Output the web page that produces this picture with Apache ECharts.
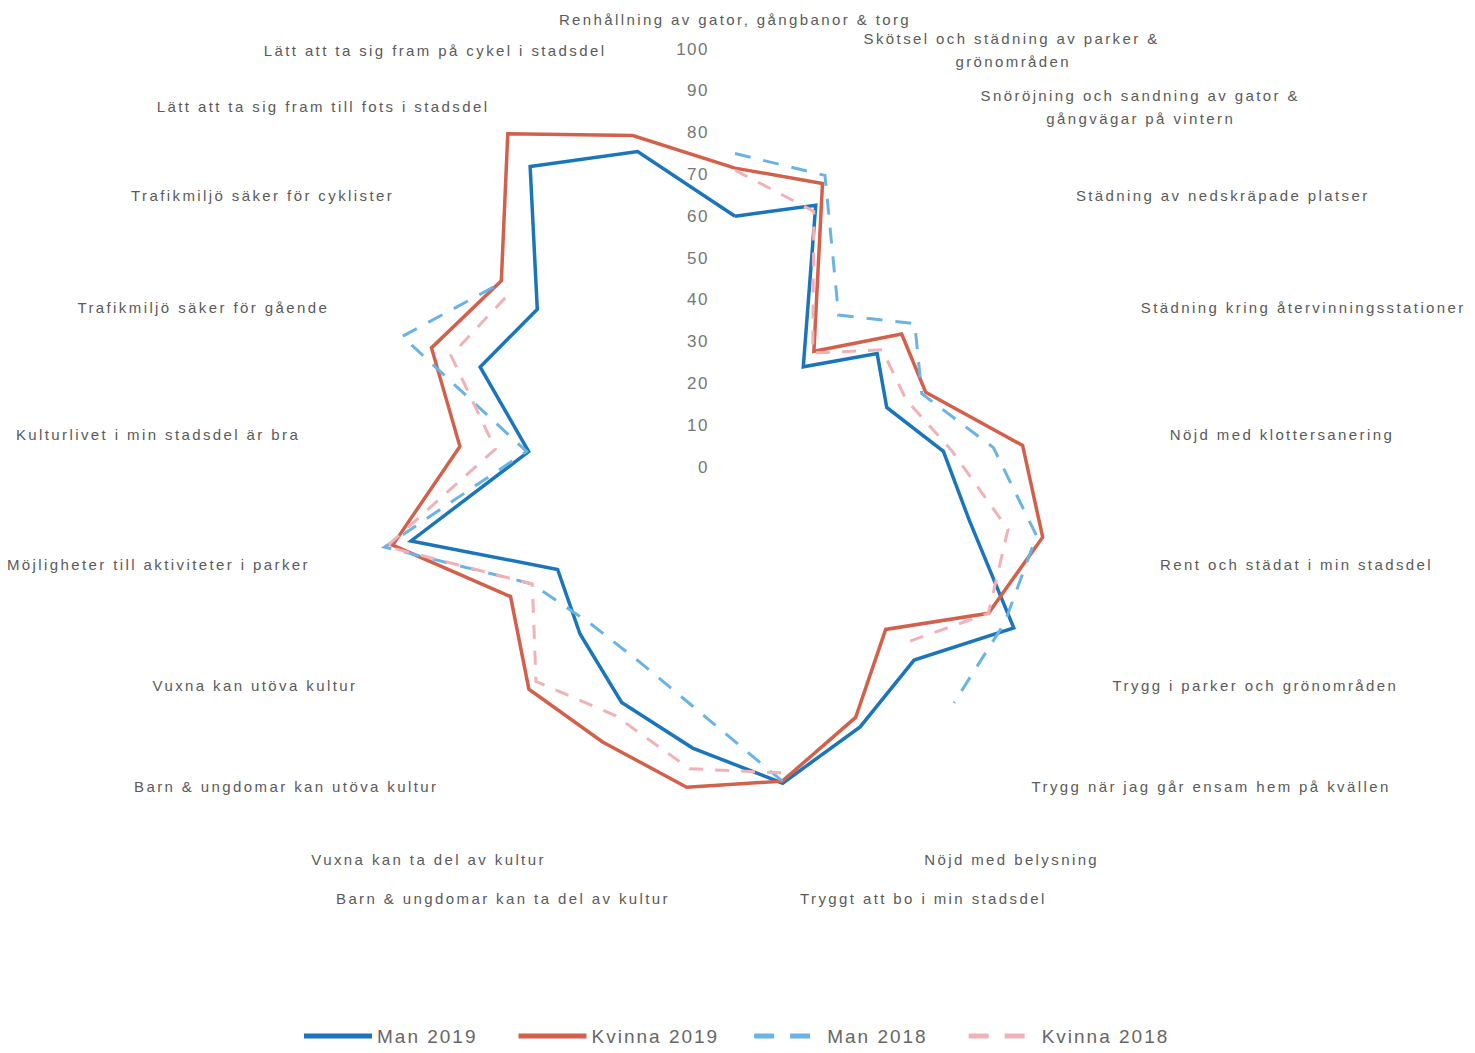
<!DOCTYPE html>
<html>
<head>
<meta charset="utf-8">
<script src="https://cdn.jsdelivr.net/npm/echarts@6/dist/echarts.min.js"></script>
<style>
  html, body { margin: 0; padding: 0; background: #ffffff; }
  #chart { width: 1475px; height: 1053px; }
  #chart text[style*="15px"] { letter-spacing: 2.4px; }
  #chart text[style*="17px"] { letter-spacing: 1.5px; }
  #chart text[style*="19px"] { letter-spacing: 2px; }
</style>
</head>
<body>
<div id="chart"></div>
<script>
// ---- data (clockwise from top) ----
const categories = [
  'Renhållning av gator, gångbanor & torg',
  'Skötsel och städning av parker &\ngrönområden',
  'Snöröjning och sandning av gator &\ngångvägar på vintern',
  'Städning av nedskräpade platser',
  'Städning kring återvinningsstationer',
  'Nöjd med klottersanering',
  'Rent och städat i min stadsdel',
  'Trygg i parker och grönområden',
  'Trygg när jag går ensam hem på kvällen',
  'Nöjd med belysning',
  'Tryggt att bo i min stadsdel',
  'Barn & ungdomar kan ta del av kultur',
  'Vuxna kan ta del av kultur',
  'Barn & ungdomar kan utöva kultur',
  'Vuxna kan utöva kultur',
  'Möjligheter till aktiviteter i parker',
  'Kulturlivet i min stadsdel är bra',
  'Trafikmiljö säker för gående',
  'Trafikmiljö säker för cyklister',
  'Lätt att ta sig fram till fots i stadsdel',
  'Lätt att ta sig fram på cykel i stadsdel'
];
const seriesNames = ['Man 2019', 'Kvinna 2019', 'Man 2018', 'Kvinna 2018'];
const man2019    = [60, 65.5, 29, 43.5, 39, 50, 57.5, 77, 63, 69, 76.5, 68, 62.5, 54.5, 49, 79.5, 49.5, 65.5, 60.5, 87, 79];
const kvinna2019 = [71.5, 71, 33.5, 51, 49, 69, 75.5, 70, 53, 66.5, 76, 77.5, 73, 72.5, 62, 84, 66, 78, 71.5, 96.5, 83];
const man2018    = [75, 73, 44, 55, 48, 62, 74, 74.5, 77, null, 76, 59, 52, 51, 56, 86, 50, 85.5, 71, null, null];
const kvinna2018 = [71, 64, 33, 45, 44, 52, 67, 70, 58, null, 74, 73, 66, 70, 56, 85.5, 57.5, 73, 68, null, null];
const tickMin = 0, tickMax = 100, tickStep = 10;

// ---- presentation ----
const CX = 735, CY = 467, R = 418;
const colors = ['#1a75bb', '#d3604b', '#6ab3e5', '#f0b1b7'];
const NAME_FONT = '"Liberation Sans", Arial, sans-serif';
const NAME_LS = 2.4;
const N = categories.length;

const measureCtx = document.createElement('canvas').getContext('2d');
measureCtx.font = '15px "Liberation Sans"';
function centerLines(text) {
  const lines = text.split('\n');
  if (lines.length < 2) return text;
  const w = s => measureCtx.measureText(s).width + s.length * NAME_LS;
  const maxW = Math.max.apply(null, lines.map(w));
  const sp = w('\u00a0');
  return lines.map(l => '\u00a0'.repeat(Math.max(0, Math.round((maxW - w(l)) / 2 / sp))) + l).join('\n');
}

// radar goes counter-clockwise, so feed indicators in reverse to get clockwise order
const radarOrder = [0].concat(categories.map((_, i) => i).slice(1).reverse());

// [radius, angleIndex]; closing point at index N (= full turn)
function toPolar(vals) {
  const pts = vals.map((v, i) => [v == null ? '-' : v, i]);
  pts.push([vals[0] == null ? '-' : vals[0], N]);
  return pts;
}
const allSeries = [man2019, kvinna2019, man2018, kvinna2018];
const dashed = [null, null, [16, 13], [14, 12]];
const dashIcon = 'path://M0,0h20v5h-20zM36,0h20v5h-20zM68,5';

const chart = echarts.init(document.getElementById('chart'), null, { renderer: 'svg' });
chart.setOption({
  animation: false,
  backgroundColor: '#ffffff',
  radar: {
    center: [CX, CY],
    radius: R,
    startAngle: 90,
    splitNumber: 10,
    indicator: radarOrder.map(i => ({ name: categories[i], min: tickMin, max: tickMax })),
    axisName: {
      color: '#5a5a5a',
      fontSize: 15,
      fontFamily: NAME_FONT,
      lineHeight: 23,
      formatter: v => centerLines(v)
    },
    axisNameGap: 18,
    axisLine: { show: false },
    axisTick: { show: false },
    axisLabel: { show: false },
    splitLine: { show: false },
    splitArea: { show: false }
  },
  polar: { center: [CX, CY], radius: R },
  angleAxis: {
    type: 'value',
    min: 0,
    max: N,
    interval: 1,
    startAngle: 90,
    clockwise: true,
    axisLine: { show: false },
    axisTick: { show: false },
    axisLabel: { show: false },
    splitLine: { show: false },
    splitArea: { show: false }
  },
  radiusAxis: {
    type: 'value',
    min: tickMin,
    max: tickMax,
    interval: tickStep,
    axisLine: { show: false },
    axisTick: { show: false },
    splitLine: { show: false },
    axisLabel: { show: true, margin: 26, color: '#777777', fontSize: 17, fontFamily: NAME_FONT, showMinLabel: true, showMaxLabel: true }
  },
  legend: {
    left: 299,
    top: 1021,
    itemWidth: 68,
    itemHeight: 5,
    itemGap: 57,
    itemStyle: { borderWidth: 0 },
    textStyle: { fontSize: 19, color: '#666666', fontFamily: NAME_FONT, lineHeight: 20 },
    data: seriesNames.map((n, k) => ({
      name: n,
      icon: dashed[k] ? dashIcon : 'rect',
      itemStyle: { color: colors[k], borderWidth: 0 }
    }))
  },
  series: allSeries.map((vals, k) => ({
    type: 'line',
    name: seriesNames[k],
    coordinateSystem: 'polar',
    data: toPolar(vals),
    symbol: 'none',
    showSymbol: false,
    connectNulls: false,
    silent: true,
    itemStyle: { color: colors[k] },
    lineStyle: { color: colors[k], width: dashed[k] ? 3 : 3.5, type: dashed[k] || 'solid', cap: 'butt', join: 'miter' }
  }))
});
</script>
</body>
</html>
